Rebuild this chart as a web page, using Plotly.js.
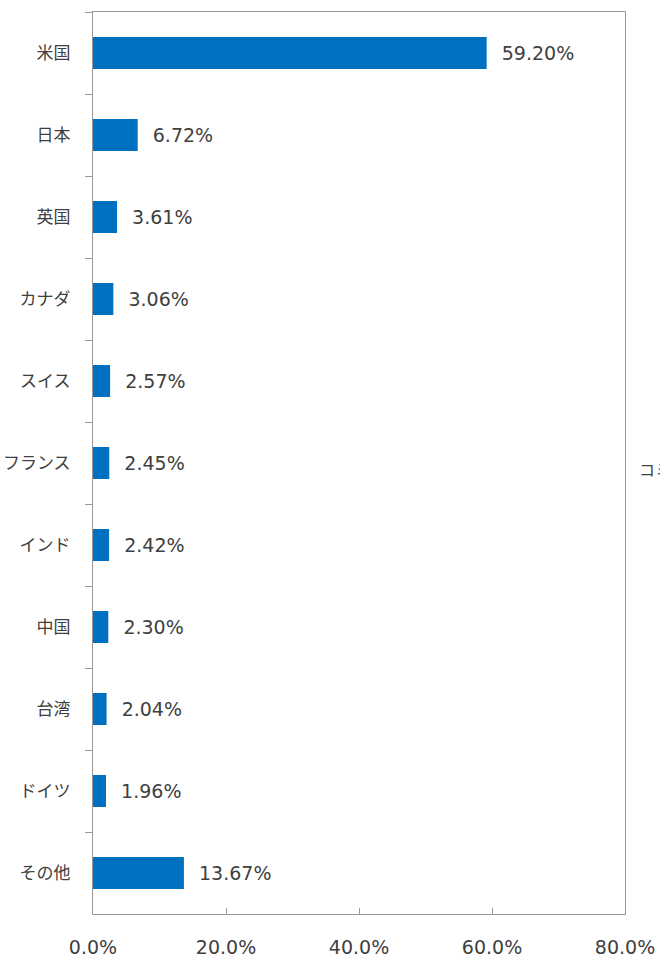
<!DOCTYPE html>
<html><head><meta charset="utf-8">
<script src="https://cdn.plot.ly/plotly-3.0.1.min.js"></script>
<style>html,body{margin:0;padding:0;background:#fff;overflow:hidden}</style>
</head><body>
<div id="chart" style="width:660px;height:959px"></div>
<script>
const countries = ["米国","日本","英国","カナダ","スイス","フランス","インド","中国","台湾","ドイツ","その他"];
const shares = [59.20, 6.72, 3.61, 3.06, 2.57, 2.45, 2.42, 2.30, 2.04, 1.96, 13.67];
const xTicks = [0, 20, 40, 60, 80];
const rightLabel = "コミット";

const fontFam = "DejaVu Sans, Noto Sans CJK JP, sans-serif";
const trace = {
  type: "bar", orientation: "h",
  y: countries, x: shares,
  marker: {color: "#0070C0"},
  width: 0.39,
  text: shares.map(v => "  " + v.toFixed(2) + "%"),
  textposition: "outside",
  textfont: {family: fontFam, size: 19, color: "#404040"},
  cliponaxis: false,
  hoverinfo: "none"
};
const layout = {
  width: 660, height: 959,
  margin: {l: 93, r: 35, t: 12, b: 45},
  paper_bgcolor: "#fff", plot_bgcolor: "#fff",
  showlegend: false,
  xaxis: {
    range: [0, 80], tickvals: xTicks, ticktext: xTicks.map(v => v.toFixed(1) + "%"),
    ticks: "inside", ticklen: 6, tickcolor: "#999", tickwidth: 1,
    showgrid: false, zeroline: false,
    showline: true, linecolor: "#999", linewidth: 1, mirror: true,
    ticklabelstandoff: 16,
    tickfont: {family: fontFam, size: 19, color: "#404040"},
    fixedrange: true
  },
  yaxis: {
    type: "category", autorange: "reversed",
    ticks: "outside", tickson: "boundaries", ticklen: 7, tickcolor: "#999", tickwidth: 1,
    showgrid: false, zeroline: false,
    showline: true, linecolor: "#999", linewidth: 1, mirror: true,
    ticklabelstandoff: 18,
    tickfont: {family: "Noto Sans CJK JP, sans-serif", size: 17, color: "#404040"},
    fixedrange: true
  },
  annotations: [{
    xref: "paper", yref: "paper", x: 1, y: 0.5, xshift: 12, yshift: -6,
    xanchor: "left", yanchor: "middle", showarrow: false,
    text: rightLabel,
    font: {family: "Noto Sans CJK JP, sans-serif", size: 16, color: "#404040"}
  }]
};
Plotly.newPlot("chart", [trace], layout, {displayModeBar: false, staticPlot: true});
</script>
</body></html>
